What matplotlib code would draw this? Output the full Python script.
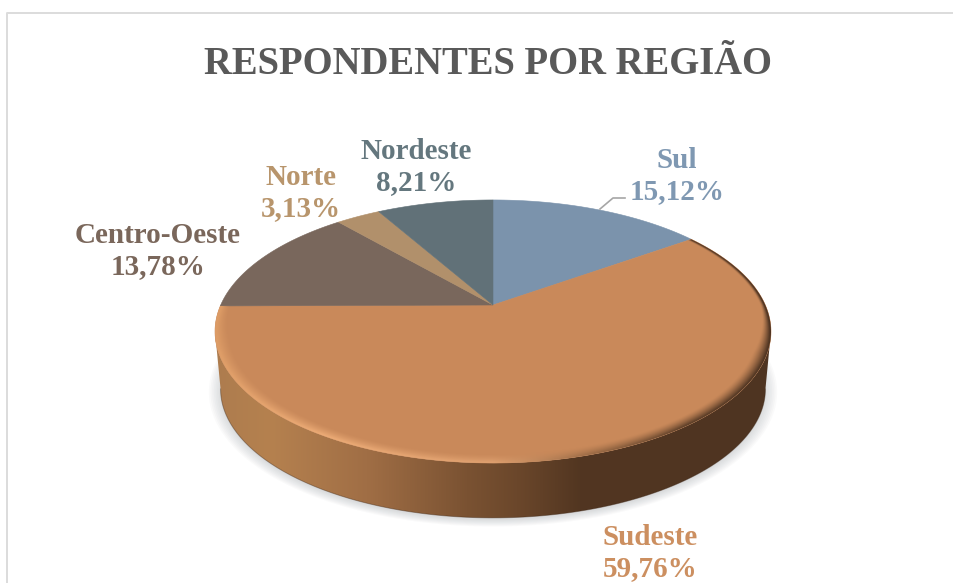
"""Respondentes por região: 3D-looking pie drawn in pixel coordinates."""
import matplotlib
matplotlib.use("Agg")
import matplotlib.pyplot as plt
import numpy as np
from matplotlib.colors import to_rgb
from matplotlib.patches import Polygon

REGIONS = ["Sul", "Sudeste", "Centro-Oeste", "Norte", "Nordeste"]
SHARES = [15.12, 59.76, 13.78, 3.13, 8.21]
SHARE_LABELS = ["15,12%", "59,76%", "13,78%", "3,13%", "8,21%"]
TITLE = "RESPONDENTES POR REGIÃO"

SLICE_COLORS = ["#7b93ac", "#c9895a", "#79675c", "#b1906b", "#617178"]
TEXT_COLORS = ["#7f98b2", "#cc8f60", "#7a675b", "#b8956c", "#64777e"]
LABEL_POS = [(677, 176), (650, 553), (158, 251), (301, 193), (416, 167)]

# perspective of the disc, in image pixels
CX, CY = 493, 305
A, B, K = 272.3, 126.2, 0.2015
BOTTOM_SCALE, BOTTOM_DY = 0.98, 58


def project(u, v, scale=1.0, dy=0.0):
    w = 1 - K * v
    return CX + A * u / w * scale, CY + B * v / w * scale + dy


def ramp(xs, stops):
    """Piecewise colour ramp, returns float rgb array with shape (..., 3)."""
    pos = [s[0] for s in stops]
    rgb = np.array([to_rgb(s[1]) for s in stops])
    return np.stack([np.interp(xs, pos, rgb[:, i]) for i in range(3)], axis=-1)


def main():
    fig = plt.figure(figsize=(9.54, 5.83), dpi=100, facecolor="white")
    ax = fig.add_axes([0, 0, 1, 1])
    ax.axis("off")

    # chart frame, only top and left show in the crop
    ax.plot([7, 7, 954], [583, 12.5, 12.5], color="#dcdcdc", linewidth=1.4)

    # soft shadow under the disc
    phi = np.linspace(0, 2 * np.pi, 361)
    for i in range(8):
        sx, sy = project(np.cos(phi), np.sin(phi), BOTTOM_SCALE + 0.006 * i, BOTTOM_DY + 2)
        ax.fill(sx, sy, color="#8f979c", alpha=0.045, linewidth=0, zorder=1)

    # side wall with horizontal gradient
    start = np.arcsin(K)
    arc = np.linspace(start, np.pi - start, 241)
    tx, ty = project(np.cos(arc), np.sin(arc))
    bx, by = project(np.cos(arc), np.sin(arc), BOTTOM_SCALE, BOTTOM_DY)
    wall = Polygon(np.column_stack([np.r_[tx, bx[::-1]], np.r_[ty, by[::-1]]]),
                   closed=True, transform=ax.transData, facecolor="none", edgecolor="none")
    ax.add_patch(wall)
    wall_x = np.arange(210, 780)
    wall_rgb = ramp(wall_x, [(215, "#ad7c4e"), (270, "#b5814f"), (367, "#a06e45"),
                             (467, "#7a5232"), (517, "#6b472b"), (580, "#523621"), (780, "#4e3422")])
    im = ax.imshow(wall_rgb[np.newaxis, :, :], extent=(210, 780, 530, 300), aspect="auto",
                   interpolation="bilinear", zorder=2)
    im.set_clip_path(wall)
    ax.plot(bx, by, color="#3d2817", linewidth=0.7, alpha=0.4, zorder=3)

    # top face, clockwise from twelve o'clock
    edges = 360 * np.cumsum([0] + SHARES) / np.sum(SHARES)
    sudeste = None
    for i, color in enumerate(SLICE_COLORS):
        t = np.radians(np.linspace(edges[i], edges[i + 1], 200))
        px, py = project(np.sin(t), -np.cos(t))
        poly = ax.fill(np.r_[CX, px], np.r_[CY, py], color=color, linewidth=0.4, zorder=4)[0]
        if REGIONS[i] == "Sudeste":
            sudeste = poly

    # bevel on the rim of the big slice, narrower towards the back and the right
    gx, gy = np.meshgrid(np.arange(205, 785, 0.5), np.arange(195, 480, 0.5))
    yy = (gy - CY) / B
    v = yy / (1 + K * yy)
    u = (gx - CX) / A * (1 - K * v)
    r = np.hypot(u, v)
    inner = 0.952 + 0.03 * np.clip((0.35 - v) / 0.35, 0, 1) * np.clip(u * 3, 0, 1) \
        + 0.012 * np.clip(1 - 4 * v, 0, 1) * np.clip(-u * 3, 0, 1)
    alpha = np.clip((r - inner) / (0.995 - inner), 0, 1) ** 1.4
    rim = ramp(u, [(-1, "#dd9c66"), (-0.5, "#ecab76"), (0, "#dfa06f"), (0.3, "#9a6a45"),
                   (0.6, "#5f4029"), (1, "#4e3422")])
    bevel = ax.imshow(np.dstack([rim, alpha]), extent=(205, 785, 480, 195), aspect="auto",
                      interpolation="bilinear", zorder=5)
    bevel.set_clip_path(sudeste)

    # leader line for Sul
    ax.plot([600, 613, 625], [209, 198, 198], color="#a6a6a6", linewidth=1.2, zorder=6)

    font = ["Liberation Serif", "DejaVu Serif"]
    for name, share, (x, y), color in zip(REGIONS, SHARE_LABELS, LABEL_POS, TEXT_COLORS):
        ax.text(x, y, f"{name}\n{share}", ha="center", va="center", color=color, family=font,
                fontsize=21, fontweight="bold", linespacing=1.2, zorder=7)

    ax.text(488, 74, TITLE, ha="center", va="baseline", color="#595959", family=font,
            fontsize=27.8, fontweight="bold")

    ax.set_xlim(0, 954)
    ax.set_ylim(583, 0)
    fig.savefig("out.png", dpi=100, facecolor="white")
    plt.close(fig)


if __name__ == "__main__":
    main()
